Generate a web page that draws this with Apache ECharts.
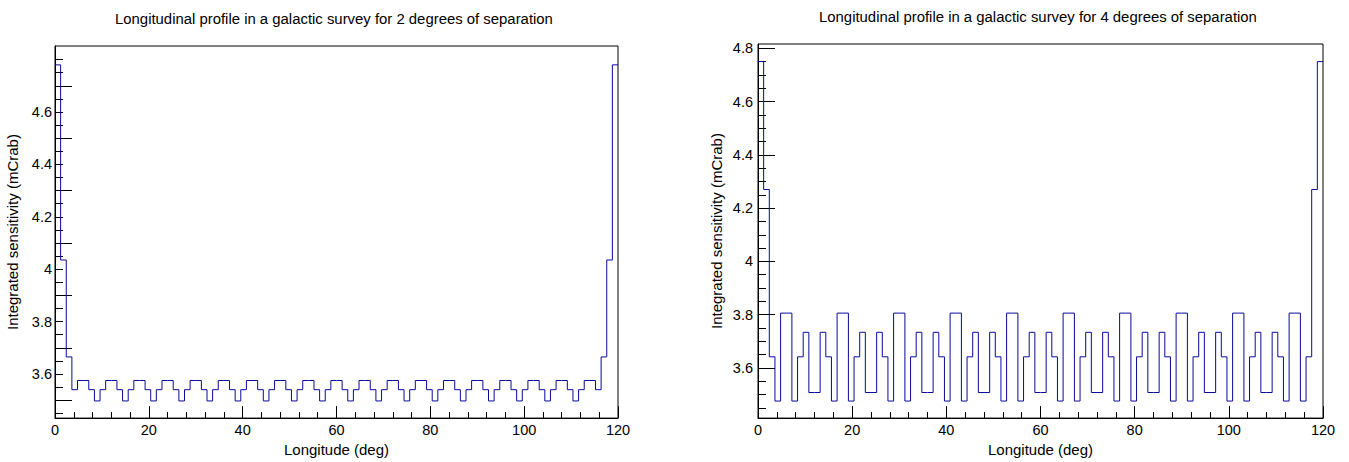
<!DOCTYPE html>
<html>
<head>
<meta charset="utf-8">
<script src="https://cdn.jsdelivr.net/npm/echarts@6/dist/echarts.min.js"></script>
<style>
html,body{margin:0;padding:0;background:#fff;}
#chart{width:1349px;height:462px;}
</style>
</head>
<body>
<div id="chart"></div>
<script>
// ---- Data ----
const binCount = 100;
const xMin = 0, xMax = 120;

// 2 degrees of separation: integrated sensitivity per 1.2 deg bin
const leftValues = [
  4.78, 4.035, 3.665, 3.54,
  3.575, 3.575, 3.54, 3.497, 3.54,
  3.575, 3.575, 3.54, 3.497, 3.54,
  3.575, 3.575, 3.54, 3.497, 3.54,
  3.575, 3.575, 3.54, 3.497, 3.54,
  3.575, 3.575, 3.54, 3.497, 3.54,
  3.575, 3.575, 3.54, 3.497, 3.54,
  3.575, 3.575, 3.54, 3.497, 3.54,
  3.575, 3.575, 3.54, 3.497, 3.54,
  3.575, 3.575, 3.54, 3.497, 3.54,
  3.575, 3.575, 3.54, 3.497, 3.54,
  3.575, 3.575, 3.54, 3.497, 3.54,
  3.575, 3.575, 3.54, 3.497, 3.54,
  3.575, 3.575, 3.54, 3.497, 3.54,
  3.575, 3.575, 3.54, 3.497, 3.54,
  3.575, 3.575, 3.54, 3.497, 3.54,
  3.575, 3.575, 3.54, 3.497, 3.54,
  3.575, 3.575, 3.54, 3.497, 3.54,
  3.575, 3.575, 3.54, 3.497, 3.54,
  3.575, 3.575, 3.54, 3.665, 4.035, 4.78
];

// 4 degrees of separation
const rightValues = [
  4.75, 4.27, 3.642, 3.476,
  3.806, 3.806, 3.476, 3.642, 3.734, 3.508, 3.508, 3.734, 3.642, 3.476,
  3.806, 3.806, 3.476, 3.642, 3.734, 3.508, 3.508, 3.734, 3.642, 3.476,
  3.806, 3.806, 3.476, 3.642, 3.734, 3.508, 3.508, 3.734, 3.642, 3.476,
  3.806, 3.806, 3.476, 3.642, 3.734, 3.508, 3.508, 3.734, 3.642, 3.476,
  3.806, 3.806, 3.476, 3.642, 3.734, 3.508, 3.508, 3.734, 3.642, 3.476,
  3.806, 3.806, 3.476, 3.642, 3.734, 3.508, 3.508, 3.734, 3.642, 3.476,
  3.806, 3.806, 3.476, 3.642, 3.734, 3.508, 3.508, 3.734, 3.642, 3.476,
  3.806, 3.806, 3.476, 3.642, 3.734, 3.508, 3.508, 3.734, 3.642, 3.476,
  3.806, 3.806, 3.476, 3.642, 3.734, 3.508, 3.508, 3.734, 3.642, 3.476,
  3.806, 3.806, 3.476, 3.642, 4.27, 4.75
];

const leftYRange = [3.4315, 4.852];
const rightYRange = [3.412, 4.816];

const leftYLabels = [3.6, 3.8, 4.0, 4.2, 4.4, 4.6];
const rightYLabels = [3.6, 3.8, 4.0, 4.2, 4.4, 4.6, 4.8];
const leftLongTicks = [3.5, 3.7, 3.9, 4.1, 4.3, 4.5, 4.7];
const fineTicks = [3.45, 3.5, 3.55, 3.6, 3.65, 3.7, 3.75, 3.8, 3.85, 3.9, 3.95, 4.0,
  4.05, 4.1, 4.15, 4.2, 4.25, 4.3, 4.35, 4.4, 4.45, 4.5, 4.55, 4.6, 4.65, 4.7, 4.75, 4.8];

const titles = [
  'Longitudinal profile in a galactic survey for 2 degrees of separation',
  'Longitudinal profile in a galactic survey for 4 degrees of separation'
];
const xName = 'Longitude (deg)';
const yName = 'Integrated sensitivity (mCrab)';

// ---- build ----
const FONT = "'Liberation Sans', Arial, Helvetica, sans-serif";
function stepData(vals) {
  const w = (xMax - xMin) / binCount;
  const d = vals.map((v, i) => [xMin + i * w, v]);
  d.push([xMax, vals[vals.length - 1]]);
  return d;
}

function xAxisFor(gi) {
  return {
    type: 'value', gridIndex: gi, min: 0, max: 120, interval: 20,
    name: xName, nameLocation: 'middle', nameGap: 19,
    nameTextStyle: { fontFamily: FONT, fontSize: 15, color: '#000' },
    axisLine: { show: true, lineStyle: { color: '#000', width: 1 } },
    axisTick: { show: true, inside: true, length: 12, lineStyle: { color: '#000' } },
    minorTick: { show: true, splitNumber: 5, length: 6, lineStyle: { color: '#000' } },
    axisLabel: { margin: 4, fontFamily: FONT, fontSize: 14.5, color: '#000' },
    splitLine: { show: false }, minorSplitLine: { show: false }
  };
}

const option = {
  animation: false,
  backgroundColor: '#fff',
  title: [
    { text: titles[0], left: 110, top: 6, textStyle: { fontFamily: FONT, fontSize: 14.9, fontWeight: 'normal', color: '#000' } },
    { text: titles[1], left: 814, top: 4, textStyle: { fontFamily: FONT, fontSize: 14.9, fontWeight: 'normal', color: '#000' } }
  ],
  grid: [
    { left: 55, top: 46, width: 563, height: 380, show: true, borderColor: '#000', borderWidth: 1, backgroundColor: 'transparent' },
    { left: 758, top: 44, width: 565, height: 381, show: true, borderColor: '#000', borderWidth: 1, backgroundColor: 'transparent' }
  ],
  xAxis: [xAxisFor(0), xAxisFor(1)],
  yAxis: [
    {
      type: 'value', gridIndex: 0, min: leftYRange[0], max: leftYRange[1],
      name: yName, nameLocation: 'middle', nameGap: 35,
      nameTextStyle: { fontFamily: FONT, fontSize: 15, color: '#000' },
      axisLine: { show: true, lineStyle: { color: '#000' } },
      axisTick: { show: true, inside: true, length: 8, customValues: fineTicks, lineStyle: { color: '#000' } },
      axisLabel: { customValues: leftYLabels, margin: 3, fontFamily: FONT, fontSize: 14.5, color: '#000' },
      splitLine: { show: false }
    },
    {
      type: 'value', gridIndex: 0, min: leftYRange[0], max: leftYRange[1], position: 'left',
      axisLine: { show: false },
      axisTick: { show: true, inside: true, length: 17, customValues: leftLongTicks, lineStyle: { color: '#000' } },
      axisLabel: { show: false },
      splitLine: { show: false }
    },
    {
      type: 'value', gridIndex: 1, min: rightYRange[0], max: rightYRange[1],
      name: yName, nameLocation: 'middle', nameGap: 34,
      nameTextStyle: { fontFamily: FONT, fontSize: 15, color: '#000' },
      axisLine: { show: true, lineStyle: { color: '#000' } },
      axisTick: { show: true, inside: true, length: 17, customValues: rightYLabels, lineStyle: { color: '#000' } },
      axisLabel: { customValues: rightYLabels, margin: 5, fontFamily: FONT, fontSize: 14.5, color: '#000' },
      splitLine: { show: false }
    },
    {
      type: 'value', gridIndex: 1, min: rightYRange[0], max: rightYRange[1], position: 'left',
      axisLine: { show: false },
      axisTick: { show: true, inside: true, length: 8, customValues: fineTicks, lineStyle: { color: '#000' } },
      axisLabel: { show: false },
      splitLine: { show: false }
    }
  ],
  series: [
    {
      type: 'line', xAxisIndex: 0, yAxisIndex: 0, step: 'end', symbol: 'none',
      data: stepData(leftValues), lineStyle: { color: '#0a0a9a', width: 1 }, z: 5
    },
    {
      type: 'line', xAxisIndex: 1, yAxisIndex: 2, step: 'end', symbol: 'none',
      data: stepData(rightValues), lineStyle: { color: '#0a0a9a', width: 1 }, z: 5
    }
  ]
};

const chart = echarts.init(document.getElementById('chart'), null, { renderer: 'svg', width: 1349, height: 462 });
chart.setOption(option);
</script>
</body>
</html>
